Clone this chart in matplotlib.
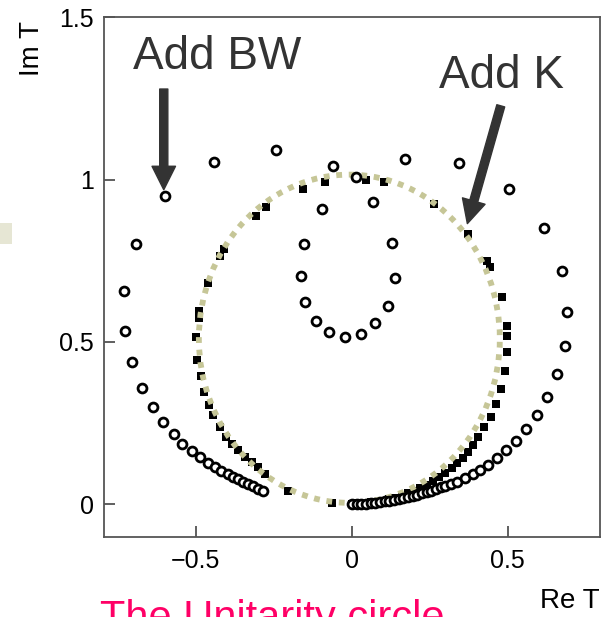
import matplotlib
matplotlib.use("Agg")
import matplotlib.pyplot as plt
from matplotlib.patches import Ellipse, FancyArrowPatch, Rectangle

plt.rcParams["font.family"] = ["Liberation Sans", "DejaVu Sans"]

# "Add BW" amplitude (open circles)
bw_re = [0.0, 0.015, 0.03, 0.045, 0.06, 0.075, 0.09, 0.105, 0.12, 0.135,
         0.15, 0.165, 0.18, 0.195, 0.21, 0.225, 0.24, 0.255, 0.27, 0.285,
         0.30, 0.318, 0.338, 0.363, 0.387, 0.410, 0.437, 0.464, 0.493, 0.526,
         0.560, 0.594, 0.626, 0.658, 0.684, 0.691, 0.674, 0.615, 0.503, 0.345,
         0.170, -0.244, -0.441, -0.599, -0.692, -0.731, -0.728, -0.704, -0.672,
         -0.639, -0.605, -0.571, -0.543, -0.514, -0.487, -0.461, -0.439,
         -0.418, -0.396, -0.380, -0.364, -0.348, -0.332, -0.316, -0.300,
         -0.286]
bw_im = [0.0, 0.0, 0.002, 0.003, 0.004, 0.006, 0.008, 0.010, 0.012, 0.014,
         0.017, 0.020, 0.023, 0.026, 0.030, 0.034, 0.038, 0.043, 0.048, 0.054,
         0.058, 0.063, 0.068, 0.080, 0.093, 0.107, 0.123, 0.144, 0.167, 0.195,
         0.231, 0.274, 0.330, 0.400, 0.489, 0.592, 0.719, 0.851, 0.972, 1.052,
         1.064, 1.090, 1.055, 0.948, 0.802, 0.657, 0.535, 0.437, 0.359,
         0.300, 0.253, 0.216, 0.185, 0.164, 0.146, 0.127, 0.115,
         0.103, 0.093, 0.084, 0.077, 0.069, 0.062, 0.056, 0.048,
         0.043]
# inner loop of the open circles
loop_re = [-0.060, 0.012, -0.095, 0.068, -0.153, 0.129, -0.164, 0.139,
           -0.151, 0.116, -0.116, 0.075, -0.073, 0.028, -0.022]
loop_im = [1.041, 1.007, 0.910, 0.931, 0.802, 0.806, 0.702, 0.697,
           0.623, 0.612, 0.565, 0.558, 0.532, 0.525, 0.516]

# "Add K" amplitude (filled squares)
k_re = [0.0, 0.02, 0.04, 0.06, 0.08, 0.10, 0.12, 0.14, 0.16, 0.18, 0.20,
        0.22, 0.24, 0.26, 0.28, 0.30, 0.32, 0.338, 0.356, 0.371, 0.388,
        0.405, 0.423, 0.445, 0.462, 0.478, 0.490, 0.499, 0.499, 0.498,
        0.482, 0.442, 0.435, 0.373, 0.264, 0.103, 0.047, -0.087, -0.158,
        -0.276, -0.308, -0.409, -0.423, -0.462, -0.490, -0.490, -0.500,
        -0.495, -0.485, -0.473, -0.458, -0.445, -0.423, -0.402, -0.384,
        -0.364, -0.343, -0.321, -0.300, -0.279, -0.204, -0.065]
k_im = [0.003, 0.004, 0.005, 0.007, 0.009, 0.012, 0.016, 0.021, 0.027, 0.034,
        0.042, 0.051, 0.061, 0.072, 0.085, 0.098, 0.112, 0.127, 0.144, 0.161,
        0.182, 0.208, 0.237, 0.269, 0.309, 0.355, 0.410, 0.468, 0.519, 0.550,
        0.638, 0.732, 0.748, 0.833, 0.926, 0.992, 0.997, 0.992, 0.972,
        0.915, 0.889, 0.787, 0.766, 0.683, 0.594, 0.575, 0.515,
        0.444, 0.395, 0.345, 0.306, 0.275, 0.239, 0.208, 0.185,
        0.167, 0.146, 0.131, 0.115, 0.095, 0.043, 0.005]

# unitarity circle as it sits in the picture
circle_centre = (-0.008, 0.51)
circle_width = 0.965
circle_height = 1.01

x_ticks = [-0.5, 0, 0.5]
x_labels = ["\u22120.5", "0", "0.5"]
y_ticks = [0, 0.5, 1, 1.5]
y_labels = ["0", "0.5", "1", "1.5"]

TEXT_GREY = "#333333"
CIRCLE_COLOUR = "#c6c697"

fig = plt.figure(figsize=(6.04, 6.17), dpi=100)
ax = fig.add_axes([0.172, 0.1297, 0.821, 0.8427])

ax.add_patch(Ellipse(circle_centre, circle_width, circle_height, fill=False,
                     edgecolor=CIRCLE_COLOUR, linewidth=4.2,
                     linestyle=(0, (1.0, 1.15)), capstyle="butt", zorder=3))

ax.plot(k_re, k_im, "s", color="black", markersize=5.4, markeredgewidth=0,
        zorder=2)
ax.plot(bw_re, bw_im, "o", markerfacecolor="white", markeredgecolor="black",
        markersize=6.4, markeredgewidth=2.0, zorder=4)
ax.plot(loop_re, loop_im, "o", markerfacecolor="white",
        markeredgecolor="black", markersize=6.4, markeredgewidth=2.0, zorder=4)

ax.set_xlim(-0.795, 0.795)
ax.set_ylim(-0.1, 1.5)
ax.set_xticks(x_ticks)
ax.set_xticklabels(x_labels)
ax.set_yticks(y_ticks)
ax.set_yticklabels(y_labels)
ax.tick_params(direction="in", length=8, width=1.2, color="#444444",
               labelsize=18, labelcolor="black")
ax.tick_params(axis="x", pad=9)
ax.tick_params(axis="y", pad=7)
for spine in ax.spines.values():
    spine.set_color("#555555")
    spine.set_linewidth(1.3)

# annotations
ax.text(-0.702, 1.340, "Add BW", fontsize=33, color=TEXT_GREY,
        va="baseline", ha="left")
ax.text(0.279, 1.281, "Add K", fontsize=33, color=TEXT_GREY,
        va="baseline", ha="left")
for start, tip in [((-0.603, 1.287), (-0.603, 0.960)),
                   ((0.480, 1.235), (0.368, 0.856))]:
    ax.add_patch(FancyArrowPatch(
        start, tip,
        arrowstyle="simple,head_length=1.3,head_width=1.3,tail_width=0.45",
        mutation_scale=13, color=TEXT_GREY, zorder=5))

fig.text(32 / 604, 1 - 49 / 617, "Im T", rotation=90, fontsize=20,
         ha="center", va="center")
fig.text(570 / 604, 1 - 601 / 617, "Re T", fontsize=20,
         ha="center", va="center")
fig.text(100 / 604, 1 - 630 / 617, "The Unitarity circle", fontsize=30,
         color="#ff0066", ha="left", va="baseline")

# small slide decoration on the left edge
fig.patches.append(Rectangle((0, 1 - 244 / 617), 12 / 604, 21 / 617,
                             transform=fig.transFigure, facecolor="#e6e6d4",
                             edgecolor="none"))

fig.savefig("out.png", dpi=100)
